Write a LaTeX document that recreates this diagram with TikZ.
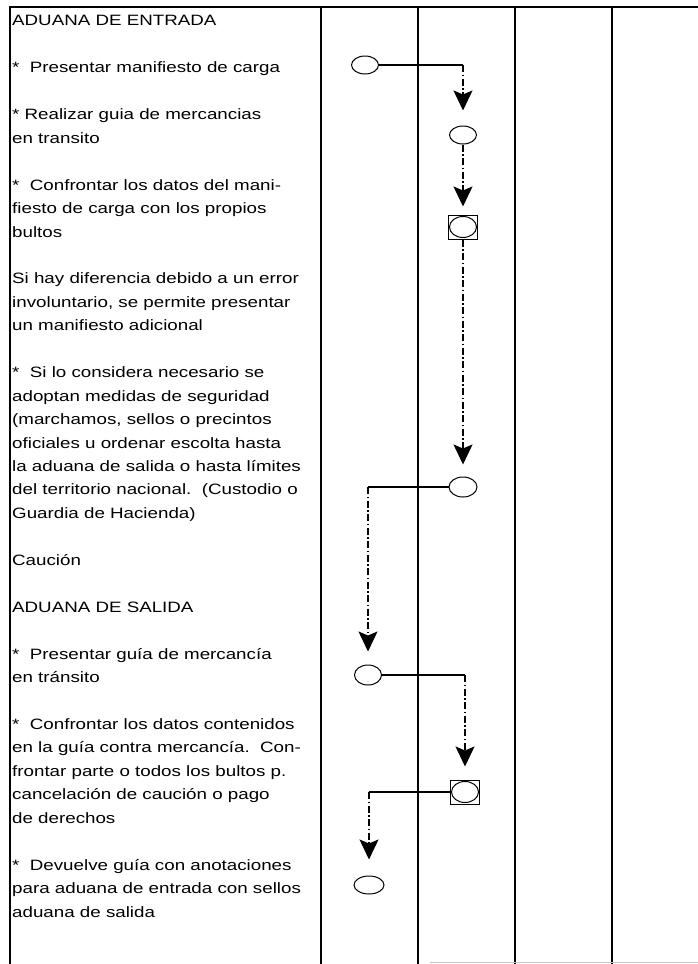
\documentclass[tikz,border=0pt]{standalone}
\usepackage{fontspec}
\setmainfont{Liberation Sans}[FakeStretch=1.25]
\usetikzlibrary{arrows.meta,shapes.geometric}
\begin{document}
\begin{tikzpicture}[x=1pt,y=-1pt,
  frame/.style={line width=1.3pt},
  txt/.style={anchor=north west, inner sep=0pt, align=left, font=\fontsize{15}{23.45}\selectfont},
  oval/.style={ellipse, draw, line width=1pt, minimum width=27pt, minimum height=18pt, inner sep=0pt},
  ovalbox/.style={rectangle, draw, line width=1pt, minimum width=29pt, minimum height=24pt, inner sep=0pt,
    path picture={\draw[line width=1pt] (path picture bounding box.center) ellipse [x radius=13.5pt, y radius=10.5pt];}},
  link/.style={line width=1.2pt},
  flow/.style={line width=1.2pt, dash pattern=on 7pt off 2.5pt on 1.5pt off 2.5pt,
    -{Stealth[length=20pt 0,width=19pt 0,inset=4pt 0,fill=black]}}
]
\useasboundingbox (0,0) rectangle (698,964);
% frame and lanes
\draw[frame] (10,964) -- (10,7) -- (698,7);
\foreach \cx in {321,418,515,612} \draw[frame] (\cx,7) -- (\cx,964);
\draw[gray!45, line width=0.8pt] (430,962) -- (698,962);

% texts
\node[txt] (t1) at (12,9.3) {\strut ADUANA DE ENTRADA};
\node[txt] (t2) at (12,56.2) {\strut *\ \ Presentar manifiesto de carga};
\node[txt] (t3) at (12,103.1) {\strut * Realizar guia de mercancias\\en transito};
\node[txt] (t4) at (12,173.5) {\strut *\ \ Confrontar los datos del mani-\\fiesto de carga con los propios\\bultos};
\node[txt] (t5) at (12,267.3) {\strut Si hay diferencia debido a un error\\involuntario, se permite presentar\\un manifiesto adicional};
\node[txt] (t6) at (12,361.1) {\strut *\ \ Si lo considera necesario se\\adoptan medidas de seguridad\\(marchamos, sellos o precintos\\oficiales u ordenar escolta hasta\\la aduana de salida o hasta límites\\del territorio nacional.\ \ (Custodio o\\Guardia de Hacienda)};
\node[txt] (t7) at (12,548.7) {\strut Caución};
\node[txt] (t8) at (12,595.6) {\strut ADUANA DE SALIDA};
\node[txt] (t9) at (12,642.5) {\strut *\ \ Presentar guía de mercancía\\en tránsito};
\node[txt] (t10) at (12,712.8) {\strut *\ \ Confrontar los datos contenidos\\en la guía contra mercancía.\ \ Con-\\frontar parte o todos los bultos p.\\cancelación de caución o pago\\de derechos};
\node[txt] (t11) at (12,853.5) {\strut *\ \ Devuelve guía con anotaciones\\para aduana de entrada con sellos\\aduana de salida};

% flow symbols
\node[oval] (e1) at (365,65) {};
\node[oval] (e2) at (463,135) {};
\node[ovalbox] (b1) at (463,227) {};
\node[oval, minimum width=28pt, minimum height=20pt] (e3) at (463,487) {};
\node[oval, minimum height=20pt] (e4) at (368,675) {};
\node[ovalbox] (b2) at (465,792) {};
\node[oval, minimum width=30pt] (e5) at (369,885) {};

% connectors
\draw[link] (e1.east) -- (e1.east -| e2.north);
\draw[flow, shorten >=15pt] (e1.east -| e2.north) -- (e2.north);
\draw[flow, shorten >=8pt] (e2.south) -- (b1.north);
\draw[flow, shorten >=12pt] (b1.south) -- (e3.north);
\draw[link] (e3.west) -- (e3.west -| e4.north);
\draw[flow, shorten >=13pt] (e3.west -| e4.north) -- (e4.north);
\draw[link] (e4.east) -- (e4.east -| b2.north);
\draw[flow, shorten >=13pt] (e4.east -| b2.north) -- (b2.north);
\draw[link] (b2.west) -- (b2.west -| e5.north);
\draw[flow, shorten >=16pt] (b2.west -| e5.north) -- (e5.north);
\end{tikzpicture}
\end{document}
